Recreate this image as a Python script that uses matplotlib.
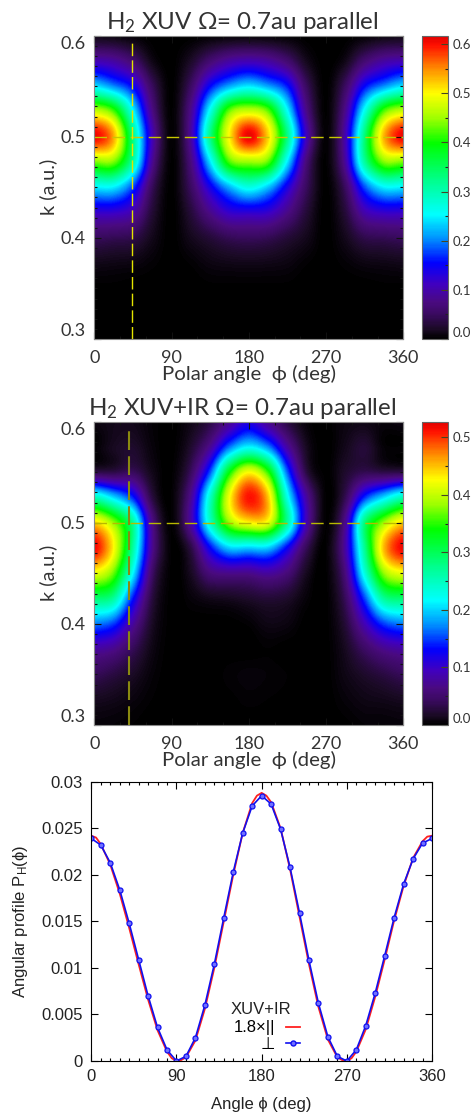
import matplotlib
matplotlib.use("Agg")
import matplotlib.pyplot as plt
import numpy as np
from matplotlib.colors import LinearSegmentedColormap
from matplotlib.lines import Line2D
from matplotlib.ticker import MultipleLocator

FIG_W, FIG_H = 477, 1112
FONT_TOP = ['Lato', 'DejaVu Sans']
FONT_BOT = ['Liberation Sans', 'DejaVu Sans']

# map grid: columns phi = 0..360 in 22.5 steps, rows k = 0.6 down to 0.3 in 0.025 steps
PHI_GRID = [0, 22.5, 45, 67.5, 90, 112.5, 135, 157.5, 180, 202.5, 225, 247.5, 270, 292.5, 315, 337.5, 360]
K_GRID = [0.6, 0.575, 0.55, 0.525, 0.5, 0.475, 0.45, 0.425, 0.4, 0.375, 0.35, 0.325, 0.3]

XUV_MAP = [
    [.010, .008, .003, 0, 0, 0, .002, .003, .004, .003, .002, 0, 0, 0, .003, .008, .010],
    [.100, .090, .060, .012, 0, .020, .060, .090, .100, .090, .060, .015, 0, .012, .060, .090, .100],
    [.240, .200, .150, .050, .001, .050, .150, .210, .240, .210, .160, .050, .001, .050, .150, .200, .240],
    [.470, .420, .260, .080, .002, .080, .260, .430, .470, .430, .260, .080, .002, .080, .260, .420, .470],
    [.610, .540, .330, .110, .003, .090, .320, .500, .610, .520, .330, .110, .003, .100, .330, .530, .610],
    [.440, .440, .310, .090, .002, .070, .240, .420, .450, .430, .250, .070, .002, .090, .310, .440, .440],
    [.250, .250, .180, .050, .001, .050, .140, .220, .270, .230, .140, .050, .001, .050, .180, .250, .250],
    [.120, .120, .100, .030, 0, .030, .080, .120, .125, .120, .080, .030, 0, .030, .100, .120, .120],
    [.050, .045, .040, .015, 0, .015, .030, .045, .050, .045, .030, .015, 0, .015, .040, .045, .050],
    [.014, .012, .010, .004, 0, .003, .010, .013, .014, .013, .010, .003, 0, .004, .010, .012, .014],
    [.001, .001, 0, 0, 0, 0, .001, .001, .001, .001, .001, 0, 0, 0, 0, .001, .001],
    [0] * 17,
    [0] * 17,
]

XUV_IR_MAP = [
    [.008, .012, .012, .004, 0, .010, .030, .070, .110, .070, .030, .005, 0, .008, .010, .006, .008],
    [.002, .015, .020, .006, 0, .020, .070, .160, .210, .170, .080, .015, 0, .012, .025, .004, .002],
    [.030, .030, .040, .012, .001, .040, .150, .330, .420, .350, .160, .030, .001, .020, .035, .030, .030],
    [.250, .200, .140, .030, .002, .070, .240, .420, .510, .450, .230, .080, .002, .035, .140, .200, .250],
    [.440, .380, .270, .070, .002, .080, .240, .380, .430, .420, .270, .090, .002, .070, .280, .380, .440],
    [.520, .430, .270, .075, .002, .030, .130, .200, .200, .200, .130, .040, .002, .080, .270, .450, .520],
    [.420, .370, .220, .050, .001, .015, .060, .070, .070, .080, .060, .015, .001, .060, .230, .380, .420],
    [.290, .270, .140, .030, 0, .005, .012, .015, .020, .025, .020, .005, 0, .040, .150, .270, .290],
    [.170, .150, .080, .018, 0, 0, 0, 0, .003, .010, .008, 0, 0, .025, .090, .150, .170],
    [.080, .070, .040, .010, 0, 0, 0, 0, 0, .002, 0, 0, 0, .015, .045, .070, .080],
    [.040, .030, .018, .005, 0, 0, 0, .003, .005, .004, .002, 0, 0, .010, .020, .030, .040],
    [.015, .012, .007, .002, 0, 0, 0, .001, .003, .002, .001, 0, 0, .005, .010, .012, .015],
    [.005, .004, .002, 0, 0, 0, 0, 0, 0, 0, 0, 0, 0, .001, .004, .004, .005],
]

# angular profile: the parallel curve is read a bit finer at its extrema
ANGLE_PAR = [0, 5, 10, 20, 30, 40, 50, 60, 70, 80, 85, 90, 95, 100, 110, 120, 130, 140, 150, 160, 170, 175,
             180, 185, 190, 200, 210, 220, 230, 240, 250, 260, 265, 270, 275, 280, 290, 300, 310, 320,
             330, 340, 350, 355, 360]
PROFILE_PAR = [.0242, .0240, .0233, .0211, .0180, .0143, .0104, .0066, .0033, .0010, .0003, .0000, .0001,
               .0004, .0022, .0056, .0100, .0150, .0200, .0245, .0277, .0285,
               .0288, .0285, .0278, .0250, .0206, .0155, .0104, .0058, .0023, .0004, .0001, .0000, .0003,
               .0010, .0034, .0069, .0109, .0151, .0188, .0218, .0236, .0241, .0242]
ANGLE_PERP = list(range(0, 370, 10))
PROFILE_PERP = [.0239, .0232, .0213, .0184, .0148, .0109, .0070, .0036, .0012, .0000,
                .0005, .0025, .0060, .0104, .0154, .0203, .0245, .0274, .0285, .0276,
                .0249, .0208, .0159, .0108, .0062, .0026, .0005, .0000, .0012, .0038,
                .0073, .0113, .0154, .0190, .0217, .0234, .0239]

CMAP = LinearSegmentedColormap.from_list("rainbow_black", [
    (0.00, '#000000'), (0.03, '#1a0a24'), (0.08, '#3a0a60'), (0.12, '#4a0a80'), (0.18, '#4000c0'),
    (0.25, '#0000ff'), (0.33, '#0090ff'), (0.41, '#00ffff'), (0.52, '#00ff90'),
    (0.645, '#00ff00'), (0.73, '#a0ff00'), (0.81, '#ffff00'), (0.89, '#ff9000'),
    (0.97, '#ff1000'), (1.00, '#e00000')])


def px_axes(fig, left, top, right, bottom):
    return fig.add_axes([left / FIG_W, 1 - bottom / FIG_H, (right - left) / FIG_W, (bottom - top) / FIG_H])


def draw_map(fig, data, top, bottom, title, vmax, cut_phi, hcolor, vcolor, vwidth, cbar_ticks):
    ax = px_axes(fig, 94.3, top, 403.3, bottom)
    dphi, dk = 22.5 / 2, 0.025 / 2
    im = ax.imshow(np.array(data), cmap=CMAP, vmin=0, vmax=vmax, aspect='auto', interpolation='catrom',
                   extent=[PHI_GRID[0] - dphi, PHI_GRID[-1] + dphi, K_GRID[-1] - dk, K_GRID[0] + dk])
    ax.set_xlim(0, 360)
    ax.set_ylim(0.3, 0.6)

    ax.axhline(0.5, color=hcolor, lw=1.0, dashes=(9, 4))
    ax.plot([cut_phi, cut_phi], [0.3, 0.594], color=vcolor, lw=vwidth, dashes=(9, 3))

    ax.set_xticks([0, 90, 180, 270, 360])
    ax.set_yticks([0.3, 0.4, 0.5, 0.6])
    ax.set_yticklabels(['0.3', '0.4', '0.5', '0.6'], family=FONT_TOP, fontsize=13, color='#333333')
    ax.set_xticklabels(['0', '90', '180', '270', '360'], family=FONT_TOP, fontsize=13, color='#333333')
    # IDL keeps the end labels inside the axis range
    ax.get_yticklabels()[0].set_va('bottom')
    ax.get_yticklabels()[-1].set_va('top')
    ax.yaxis.set_minor_locator(MultipleLocator(0.01))
    ax.xaxis.set_minor_locator(MultipleLocator(30))
    ax.tick_params(which='major', direction='in', top=True, right=True, length=5, width=0.8, color='#111111', pad=8)
    ax.tick_params(which='major', axis='y', pad=6)
    ax.tick_params(which='minor', direction='in', top=True, right=True, length=2.2, width=0.8, color='#111111')
    for spine in ax.spines.values():
        spine.set_color('#888888')

    ax.set_xlabel('Polar angle  ϕ (deg)', family=FONT_TOP, fontsize=14.7, color='#333333', labelpad=-1)
    ax.set_ylabel('k (a.u.)', family=FONT_TOP, fontsize=14.4, color='#333333', labelpad=3)
    ax.set_title(title, family=FONT_TOP, fontsize=17.4, color='#333333', pad=5, x=0.4796)

    cax = px_axes(fig, 422.3, top, 448.5, bottom)
    cbar = fig.colorbar(im, cax=cax)
    cbar.set_ticks(cbar_ticks)
    cbar.set_ticklabels(['%.1f' % t for t in cbar_ticks], family=FONT_TOP, fontsize=9.5, color='#333333')
    cax.yaxis.get_ticklabels()[0].set_va('bottom')
    cax.yaxis.set_minor_locator(MultipleLocator(0.05))
    cax.tick_params(which='major', direction='in', length=5, width=0.8, color='#444422', pad=3)
    cax.tick_params(which='minor', direction='in', length=2.5, width=0.8, color='#222222')
    cbar.outline.set_edgecolor('#666666')


def draw_profile(fig):
    ax = px_axes(fig, 91.3, 781.7, 432, 1061)
    ax.plot(ANGLE_PAR, PROFILE_PAR, color='#ff2020', lw=1.3)
    ax.plot(ANGLE_PERP, PROFILE_PERP, color='#1010f0', lw=1.2, marker='o', ms=3.6, mfc='#7070ff', mec='#1010f0', mew=0.9)
    ax.set_xlim(0, 360)
    ax.set_ylim(0, 0.03)
    ax.set_xticks([0, 90, 180, 270, 360])
    ax.set_xticklabels(['0', '90', '180', '270', '360'], family=FONT_BOT, fontsize=12, color='#222222')
    ax.set_yticks([0, 0.005, 0.01, 0.015, 0.02, 0.025, 0.03])
    ax.set_yticklabels(['0', '0.005', '0.01', '0.015', '0.02', '0.025', '0.03'],
                       family=FONT_BOT, fontsize=12, color='#222222')
    ax.xaxis.set_minor_locator(MultipleLocator(10))
    ax.tick_params(which='major', direction='in', top=True, right=True, length=5, width=0.8, pad=6)
    ax.tick_params(which='minor', direction='in', top=True, length=2.5, width=0.8)
    ax.set_xlabel('Angle ϕ (deg)', family=FONT_BOT, fontsize=12, color='#222222', labelpad=9)
    ax.set_ylabel('Angular profile P$_\\mathrm{H}$(ϕ)', family=FONT_BOT, fontsize=12, color='#222222', labelpad=8)

    handles = [Line2D([], [], color='#ff2020', lw=1.3),
               Line2D([], [], color='#1010f0', lw=1.2, marker='o', ms=3.6, mfc='#7070ff', mec='#1010f0')]
    ax.legend(handles, ['1.8×||', '⊥'], loc='lower left', bbox_to_anchor=(0.419, 0.032),
              frameon=False, markerfirst=False, handlelength=0.85, handletextpad=0.6, labelspacing=0.1,
              borderpad=0, borderaxespad=0, prop={'family': FONT_BOT, 'size': 12})
    ax.text(179, 0.00548, 'XUV+IR', family=FONT_BOT, fontsize=12, color='#222222', ha='center', va='center')


def main():
    plt.rcParams['mathtext.fontset'] = 'custom'
    plt.rcParams['mathtext.rm'] = 'Liberation Sans'
    plt.rcParams['mathtext.default'] = 'regular'

    fig = plt.figure(figsize=(FIG_W / 100, FIG_H / 100), dpi=100)
    draw_map(fig, XUV_MAP, 35.7, 339, 'H$_2$ XUV Ω= 0.7au parallel', 0.617, 44.3, '#c8c800', '#e4e400', 1.0,
             [0.0, 0.1, 0.2, 0.3, 0.4, 0.5, 0.6])
    draw_map(fig, XUV_IR_MAP, 421.7, 725, 'H$_2$ XUV+IR Ω= 0.7au parallel', 0.527, 40, '#b8b800', '#8a8a10', 1.5,
             [0.0, 0.1, 0.2, 0.3, 0.4, 0.5])
    draw_profile(fig)
    fig.savefig('out.png', dpi=100)


if __name__ == "__main__":
    main()
